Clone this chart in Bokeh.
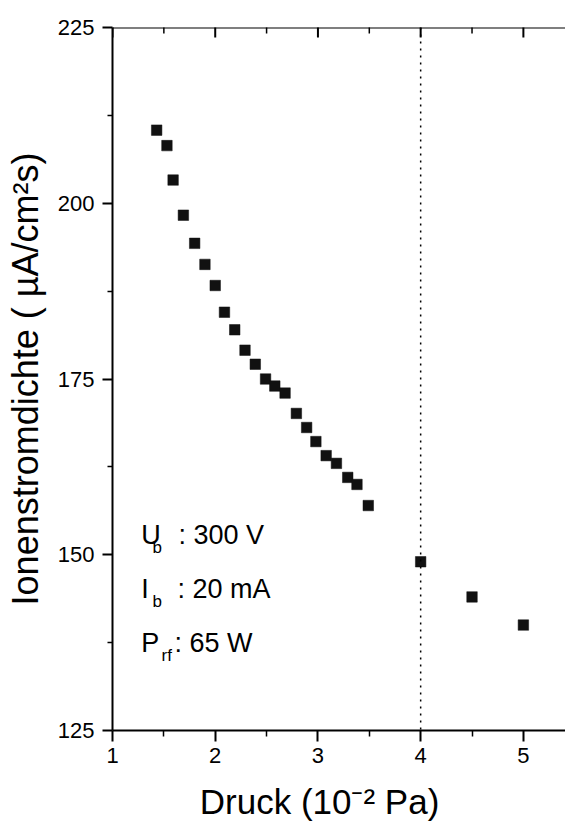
import math
from bokeh.plotting import figure
from bokeh.models import FixedTicker, Span, Range1d, ColumnDataSource
from bokeh.core.properties import value
from bokeh.embed import file_html
from bokeh.resources import INLINE

# Ion current density vs. chamber pressure
pressure = [1.43, 1.53, 1.59, 1.69, 1.80, 1.90, 2.00, 2.09, 2.19, 2.29, 2.39,
            2.49, 2.58, 2.68, 2.79, 2.89, 2.98, 3.08, 3.18, 3.29, 3.38, 3.49,
            4.00, 4.50, 5.00]
current_density = [210.4, 208.2, 203.3, 198.3, 194.3, 191.3, 188.3, 184.5, 182.0,
                   179.1, 177.1, 175.0, 174.0, 173.0, 170.1, 168.1, 166.1, 164.1,
                   163.0, 161.0, 160.0, 157.0, 149.0, 144.0, 140.0]

x_major = [1, 2, 3, 4, 5]
x_minor = [1.5, 2.5, 3.5, 4.5, 5.5]
y_major = [125, 150, 175, 200, 225]
y_minor = [137.5, 162.5, 187.5, 212.5]

marker_pressure = 4.0  # dotted reference line

# beam parameters printed inside the plot
param_symbols = ["U", "I", "P"]
param_subscripts = ["b", "b", "rf"]
param_values = [": 300 V", ": 20 mA", ": 65 W"]

FONT = "Liberation Sans"
Y_TOP = 225

p = figure(width=565, height=825, output_backend="svg", toolbar_location=None,
           x_range=Range1d(1, 5.41), y_range=Range1d(125, Y_TOP),
           min_border_left=112, min_border_right=0, min_border_top=27,
           min_border_bottom=95)
p.outline_line_color = None
p.grid.visible = False
p.background_fill_color = "white"
p.border_fill_color = "white"

# bottom axis
xa = p.xaxis[0]
xa.ticker = FixedTicker(ticks=x_major, minor_ticks=x_minor)
xa.axis_label = "Druck (10\u207b\u00b2 Pa)" + "\u00a0" * 4
xa.axis_label_text_font = FONT
xa.axis_label_text_font_size = "35px"
xa.axis_label_text_font_style = "normal"
xa.axis_label_text_color = "black"
xa.axis_label_standoff = 16
xa.major_label_text_font = FONT
xa.major_label_text_font_size = "22px"
xa.major_label_text_color = "black"
xa.major_label_standoff = 6
xa.axis_line_width = 2
xa.major_tick_line_width = 2
xa.minor_tick_line_width = 1.5
xa.major_tick_out = 11
xa.major_tick_in = 0
xa.minor_tick_out = 6
xa.minor_tick_in = 0

# left axis
ya = p.yaxis[0]
ya.ticker = FixedTicker(ticks=y_major, minor_ticks=y_minor)
ya.axis_label = "Ionenstromdichte ( \u00b5A/cm\u00b2s)"
ya.axis_label_text_font = FONT
ya.axis_label_text_font_size = "36px"
ya.axis_label_text_font_style = "normal"
ya.axis_label_text_color = "black"
ya.axis_label_standoff = 9
ya.major_label_text_font = FONT
ya.major_label_text_font_size = "22px"
ya.major_label_text_color = "black"
ya.major_label_standoff = 8
ya.axis_line_width = 2
ya.major_tick_line_width = 2
ya.minor_tick_line_width = 1.5
ya.major_tick_out = 10
ya.major_tick_in = 0
ya.minor_tick_out = 5
ya.minor_tick_in = 0

# top frame line with short inward ticks (outer halves fall outside the frame)
p.add_layout(Span(location=Y_TOP, dimension="width", line_color="black", line_width=2))
p.scatter(x=x_major, y=[Y_TOP] * len(x_major), marker="dash", angle=math.pi / 2,
          size=20, line_color="black", line_width=2)
p.scatter(x=x_minor, y=[Y_TOP] * len(x_minor), marker="dash", angle=math.pi / 2,
          size=12, line_color="black", line_width=1.5)

p.add_layout(Span(location=marker_pressure, dimension="height", line_color="black",
                  line_width=1.5, line_dash="2 5"))

src = ColumnDataSource(dict(x=pressure, y=current_density))
p.scatter("x", "y", source=src, marker="square", size=10.5,
          fill_color="#111111", line_color="#111111", line_width=0.5)

# parameter block: symbol, subscript and value on three rows
sym_x = [1.28, 1.28, 1.28]
sym_y = [152.8, 145.1, 137.4]
sub_x = [1.39, 1.39, 1.477]
sub_y = [151.1, 143.4, 135.7]
val_x = [1.643, 1.633, 1.604]

p.text(x=sym_x, y=sym_y, text=param_symbols, text_font=value(FONT),
       text_font_size="27px", text_baseline="alphabetic", text_color="black")
p.text(x=sub_x, y=sub_y, text=param_subscripts, text_font=value(FONT),
       text_font_size="17px", text_baseline="alphabetic", text_color="black")
p.text(x=val_x, y=sym_y, text=param_values, text_font=value(FONT),
       text_font_size="27px", text_baseline="alphabetic", text_color="black")

open("out.html", "w").write(file_html(p, INLINE))
